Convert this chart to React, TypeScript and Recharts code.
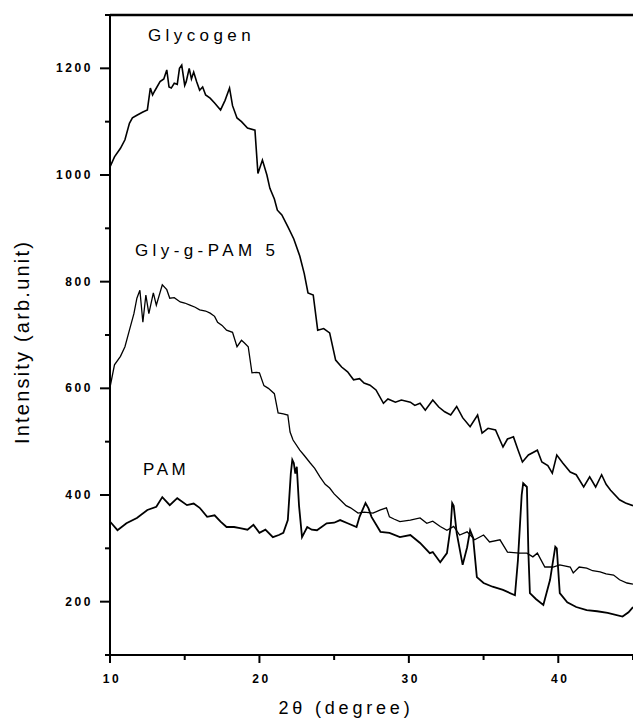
import React from 'react';
import { LineChart, Line, XAxis, YAxis, ReferenceLine } from 'recharts';

const glycogenX = [10.0,10.3,10.7,11.0,11.3,11.5,11.8,12.2,12.5,12.7,12.85,13.0,13.35,13.6,13.8,13.95,14.1,14.3,14.5,14.65,14.8,15.0,15.1,15.3,15.45,15.6,15.8,16.0,16.2,16.4,16.7,17.0,17.4,17.7,18.0,18.2,18.5,18.8,19.2,19.7,19.9,20.2,20.5,20.7,21.0,21.2,21.5,21.9,22.3,22.7,23.0,23.25,23.6,23.9,24.3,24.7,25.1,25.5,25.9,26.3,26.7,27.0,27.4,27.8,28.3,28.6,29.1,29.5,30.1,30.4,30.75,31.1,31.6,32.0,32.4,32.8,33.2,33.6,34.1,34.6,34.9,35.3,35.8,36.3,36.6,37.0,37.3,37.6,38.0,38.6,38.9,39.3,39.6,39.9,40.3,40.8,41.2,41.7,42.1,42.5,42.9,43.2,43.5,44.1,44.5,45.0];
const glycogenY = [1015,1034,1050,1066,1097,1107,1112,1118,1122,1163,1150,1158,1175,1180,1197,1165,1163,1172,1170,1200,1206,1168,1175,1200,1180,1193,1175,1159,1165,1150,1144,1135,1122,1140,1163,1130,1107,1100,1088,1084,1003,1028,1000,975,955,934,925,903,880,848,815,779,775,709,712,704,653,640,631,616,618,610,606,597,572,580,574,578,574,568,572,559,578,565,556,550,566,545,528,550,516,525,522,490,505,509,485,462,475,484,462,455,441,475,460,443,438,415,434,415,438,420,409,391,385,380];

const glyPamX = [10.0,10.3,10.7,11.0,11.3,11.6,11.8,12.0,12.2,12.4,12.6,12.9,13.1,13.5,13.8,14.0,14.3,14.7,15.0,15.35,15.7,16.0,16.4,16.7,17.0,17.2,17.5,17.8,18.2,18.5,18.8,19.0,19.25,19.5,19.8,20.0,20.3,20.6,21.0,21.25,21.6,21.9,22.05,22.25,22.7,23.0,23.4,23.7,24.05,24.4,24.7,25.0,25.4,25.8,26.1,26.6,27.0,27.6,28.1,28.5,28.7,29.0,29.4,30.1,30.75,31.2,31.6,32.1,32.55,33.0,33.4,33.9,34.4,35.0,35.4,36.1,36.6,37.4,37.9,38.3,38.6,39.1,39.65,40.1,40.8,41.0,41.4,41.9,42.3,42.8,43.2,43.7,44.1,44.6,45.0];
const glyPamY = [602,644,660,678,709,740,769,784,724,775,740,779,756,794,785,769,770,762,760,756,752,747,745,741,735,724,718,709,705,678,690,685,678,629,630,629,605,600,590,554,552,550,518,503,484,474,460,450,434,420,413,402,391,380,376,366,368,366,372,376,359,355,350,353,357,347,351,341,334,341,325,331,316,325,312,316,293,291,291,284,291,265,265,269,265,254,265,263,258,256,252,250,241,235,233];

const pamX = [10.0,10.1,10.5,11.1,11.8,12.5,13.1,13.5,14.0,14.5,15.15,15.6,16.0,16.5,17.0,17.4,17.8,18.3,18.7,19.2,19.6,20.0,20.4,20.9,21.3,21.6,21.9,22.1,22.2,22.3,22.4,22.5,22.65,22.85,23.2,23.5,23.85,24.5,25.0,25.4,25.9,26.5,26.7,27.1,27.3,27.5,28.1,28.7,29.4,30.1,30.75,31.4,31.6,32.1,32.55,32.8,32.9,33.0,33.2,33.6,33.9,34.1,34.3,34.55,35.0,35.6,36.3,37.1,37.3,37.55,37.65,37.9,38.0,38.1,38.5,39.0,39.45,39.8,39.9,40.1,40.6,41.2,41.9,42.6,43.3,44.3,44.7,45.0];
const pamY = [350,347,334,347,357,372,378,396,381,394,381,384,376,359,362,350,340,340,338,335,344,329,335,321,325,329,353,440,466,460,440,453,380,321,340,335,334,347,348,353,347,340,359,385,375,359,331,329,321,325,310,291,293,274,291,341,385,380,329,269,302,334,320,246,235,228,222,212,278,400,422,415,291,216,205,194,241,303,300,216,199,190,184,182,179,172,180,190];

const xTicks = [10, 15, 20, 25, 30, 35, 40, 45];
const xTickLabels = ['10', '', '20', '', '30', '', '40', ''];
const yTicks = [100, 200, 300, 400, 500, 600, 700, 800, 900, 1000, 1100, 1200, 1300];
const yTickLabels = ['', '200', '', '400', '', '600', '', '800', '', '1000', '', '1200', ''];

const toRows = (xs: number[], ys: number[]) => xs.map((x, i) => ({ x, y: ys[i] }));
const glycogenData = toRows(glycogenX, glycogenY);
const glyPamData = toRows(glyPamX, glyPamY);
const pamData = toRows(pamX, pamY);

const tickFont = {
  fontFamily: 'Liberation Sans, Arial, sans-serif',
  fontSize: 12,
  fontWeight: 700 as const,
  letterSpacing: 2.6,
  fill: '#000',
};

const YTick = (props: any) => {
  const { x, y, payload } = props;
  const idx = yTicks.indexOf(payload.value);
  const label = idx >= 0 ? yTickLabels[idx] : '';
  const len = label ? 10 : 5;
  return (
    <g>
      <line x1={x} x2={x - len} y1={y} y2={y} stroke="#000" strokeWidth={2} />
      {label && (
        <text x={x - 17} y={y} dy={4} textAnchor="end" style={tickFont}>
          {label}
        </text>
      )}
    </g>
  );
};

const XTick = (props: any) => {
  const { x, y, payload } = props;
  const idx = xTicks.indexOf(payload.value);
  const label = idx >= 0 ? xTickLabels[idx] : '';
  const len = label ? 8 : 5;
  return (
    <g>
      <line x1={x} x2={x} y1={y} y2={y + len} stroke="#000" strokeWidth={2} />
      {label && (
        <text x={x + 2} y={y + 28} textAnchor="middle" style={tickFont}>
          {label}
        </text>
      )}
    </g>
  );
};

const labelFont = {
  fontFamily: 'Liberation Sans, Arial, sans-serif',
  fill: '#000',
};

export default function App() {
  return (
    <div style={{ position: 'absolute', left: 0, top: 0, width: 633, height: 720, background: '#fff' }}>
      <LineChart width={633} height={720} margin={{ top: 15, right: 0, bottom: 15, left: 0 }}>
        <XAxis
          dataKey="x"
          type="number"
          domain={[10, 45]}
          ticks={xTicks}
          allowDataOverflow
          stroke="#000"
          axisLine={{ stroke: '#000', strokeWidth: 2 }}
          tickLine={false}
          tickSize={0}
          tickMargin={0}
          tick={<XTick />}
          height={50}
          interval={0}
        />
        <YAxis
          type="number"
          domain={[100, 1300]}
          ticks={yTicks}
          allowDataOverflow
          width={110}
          stroke="#000"
          axisLine={{ stroke: '#000', strokeWidth: 2 }}
          tickLine={false}
          tickSize={0}
          tickMargin={0}
          tick={<YTick />}
          interval={0}
        />
        <ReferenceLine y={1300} stroke="#000" strokeWidth={2.5} ifOverflow="visible" />
        <Line data={glycogenData} dataKey="y" type="linear" stroke="#000" strokeWidth={1.6} dot={false} isAnimationActive={false} />
        <Line data={glyPamData} dataKey="y" type="linear" stroke="#000" strokeWidth={1.3} dot={false} isAnimationActive={false} />
        <Line data={pamData} dataKey="y" type="linear" stroke="#000" strokeWidth={1.8} dot={false} isAnimationActive={false} />
      </LineChart>
      <svg width={633} height={720} style={{ position: 'absolute', left: 0, top: 0, pointerEvents: 'none' }}>
        <text x={148} y={41} style={{ ...labelFont, fontSize: 17, letterSpacing: 4.4 }}>Glycogen</text>
        <text x={135} y={256} style={{ ...labelFont, fontSize: 17, letterSpacing: 4.4 }}>Gly-g-PAM 5</text>
        <text x={143} y={475} style={{ ...labelFont, fontSize: 17, letterSpacing: 3.6 }}>PAM</text>
        <text
          x={0}
          y={0}
          transform="translate(29 342) rotate(-90)"
          textAnchor="middle"
          style={{ ...labelFont, fontSize: 20, letterSpacing: 2.2 }}
        >
          Intensity (arb.unit)
        </text>
        <text x={346} y={714} textAnchor="middle" style={{ ...labelFont, fontSize: 18, letterSpacing: 3.8 }}>
          2θ (degree)
        </text>
      </svg>
    </div>
  );
}
